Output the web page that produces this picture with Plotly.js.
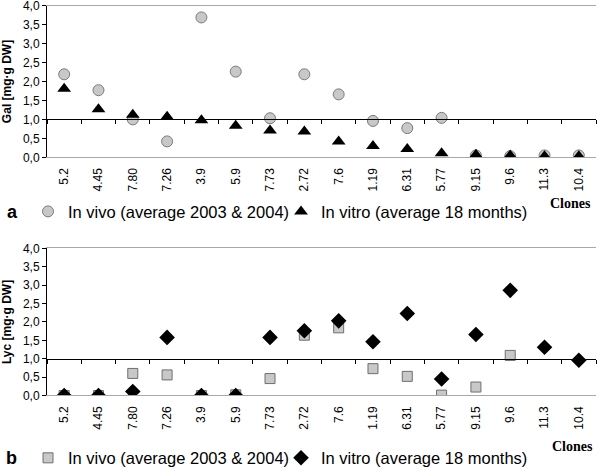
<!DOCTYPE html>
<html>
<head>
<meta charset="utf-8">
<script src="https://cdn.plot.ly/plotly-3.0.1.min.js"></script>
<style>
  html, body { margin: 0; padding: 0; background: #fff; }
  #chart { width: 609px; height: 476px; }
</style>
</head>
<body>
<div id="chart"></div>
<script>
// clones on the x axis (same order in both panels)
const clones = ['5.2', '4.45', '7.80', '7.26', '3.9', '5.9', '7.73', '2.72', '7.6', '1.19', '6.31', '5.77', '9.15', '9.6', '11.3', '10.4'];

// panel a: Gal [mg·g DW]
const galVivo = [2.19, 1.77, 1.00, 0.42, 3.69, 2.26, 1.03, 2.19, 1.66, 0.96, 0.77, 1.04, 0.05, 0.03, 0.05, 0.05];
const galVitro = [1.81, 1.27, 1.12, 1.07, 0.98, 0.83, 0.71, 0.68, 0.42, 0.30, 0.22, 0.11, 0.07, 0.05, 0.03, 0.03];

// panel b: Lyc [mg·g DW]
const lycVivo = [0, 0, 0.60, 0.56, 0, 0.02, 0.46, 1.64, 1.84, 0.73, 0.52, 0.01, 0.23, 1.09, null, null];
const lycVitro = [0, 0, 0.11, 1.58, 0, 0, 1.58, 1.76, 2.03, 1.46, 2.23, 0.45, 1.66, 2.86, 1.31, 0.96];

const seriesNames = ['In vivo (average 2003 & 2004)', 'In vitro (average 18 months)'];
const yTicks = [0, 0.5, 1, 1.5, 2, 2.5, 3, 3.5, 4];

const W = 609, H = 476;
const px = x => x / W;
const py = y => 1 - y / H;

const font = 'Arial, "Liberation Sans", sans-serif';
const serif = '"Times New Roman", "Liberation Serif", serif';
const xDom = [px(47), px(596)];
const topDom = [py(158.3), py(5.7)];
const botDom = [py(398), py(250)];
const crossAt = (dom) => dom[0] + (dom[1] - dom[0]) * 0.25; // y = 1.0 of a 0..4 axis

const traces = [
    { x: clones, y: galVivo, name: seriesNames[0], type: 'scatter', mode: 'markers',
      xaxis: 'x', yaxis: 'y', legend: 'legend',
      marker: { symbol: 'circle', size: 11, color: '#c8c8c8', line: { color: '#7a7a7a', width: 1 } } },
    { x: clones, y: galVitro, name: seriesNames[1], type: 'scatter', mode: 'markers',
      xaxis: 'x', yaxis: 'y', legend: 'legend',
      marker: { symbol: 'triangle-up', size: 12, color: '#000' } },
    { x: clones, y: lycVivo, name: seriesNames[0], type: 'scatter', mode: 'markers',
      xaxis: 'x2', yaxis: 'y2', legend: 'legend2',
      marker: { symbol: 'square', size: 10, color: '#c8c8c8', line: { color: '#6e6e6e', width: 1 } } },
    { x: clones, y: lycVitro, name: seriesNames[1], type: 'scatter', mode: 'markers',
      xaxis: 'x2', yaxis: 'y2', legend: 'legend2',
      marker: { symbol: 'diamond', size: 12, color: '#000' } },
    // empty traces so the y = 1.0 crossing axes get drawn
    { x: [], y: [], xaxis: 'x3', yaxis: 'y', type: 'scatter', mode: 'markers', showlegend: false, hoverinfo: 'skip' },
    { x: [], y: [], xaxis: 'x4', yaxis: 'y2', type: 'scatter', mode: 'markers', showlegend: false, hoverinfo: 'skip' }
];

function catAxis(anchor) {
    return {
        domain: xDom, anchor: anchor, type: 'category',
        categoryorder: 'array', categoryarray: clones,
        range: [-0.5, clones.length - 0.5],
        showline: true, linecolor: '#a8a8a8', linewidth: 1, mirror: true,
        showgrid: false, zeroline: false, ticks: '',
        tickangle: -90, ticklabelstandoff: 5,
        tickfont: { family: font, size: 12, color: '#000' }
    };
}

function valAxis(anchor, dom, title) {
    return {
        domain: dom, anchor: anchor, range: [0, 4], tickvals: yTicks,
        tickformat: '.1f', showgrid: false, zeroline: false,
        showline: true, linecolor: '#000', linewidth: 1,
        ticks: 'outside', ticklen: 4, tickcolor: '#000', ticklabeloverflow: 'allow',
        tickfont: { family: font, size: 12, color: '#000' },
        title: { text: title, font: { family: font, size: 12, color: '#000', weight: 'bold' }, standoff: 9 }
    };
}

// axis drawn at y = 1.0 with tick marks between clones
function crossAxis(dom, over) {
    return {
        domain: xDom, anchor: 'free', position: crossAt(dom), overlaying: over,
        range: [-0.5, clones.length - 0.5], tick0: 0.5, dtick: 1,
        showline: true, linecolor: '#000', linewidth: 1,
        ticks: 'outside', ticklen: 4, tickcolor: '#000',
        showticklabels: false, showgrid: false, zeroline: false
    };
}

const legendBase = {
    orientation: 'h', xanchor: 'left', yanchor: 'middle',
    font: { family: font, size: 16.5, color: '#000' },
    bgcolor: 'rgba(0,0,0,0)', itemclick: false, tracegroupgap: 0,
    entrywidth: 208, entrywidthmode: 'pixels'
};

function label(text, x, y, size, family) {
    return { text: text, x: px(x), y: py(y), xref: 'paper', yref: 'paper', showarrow: false,
             xanchor: 'center', yanchor: 'middle', font: { family: family, size: size, color: '#000' } };
}

const layout = {
    width: W, height: H,
    margin: { l: 0, r: 0, t: 0, b: 0 },
    paper_bgcolor: '#fff', plot_bgcolor: '#fff',
    separators: ',.',
    xaxis: catAxis('y'),
    yaxis: valAxis('x', topDom, 'Gal [mg·g DW]'),
    xaxis2: catAxis('y2'),
    yaxis2: valAxis('x2', botDom, 'Lyc [mg·g DW]'),
    xaxis3: crossAxis(topDom, 'x'),
    xaxis4: crossAxis(botDom, 'x2'),
    legend: Object.assign({ x: px(28), y: py(213) }, legendBase),
    legend2: Object.assign({ x: px(28), y: py(461) }, legendBase),
    annotations: [
        label('<b>Clones</b>', 570, 205, 14, serif),
        label('<b>Clones</b>', 572, 449, 14, serif),
        label('<b>a</b>', 12, 213, 18, font),
        label('<b>b</b>', 11, 461, 18, font)
    ],
    showlegend: true
};

Plotly.newPlot('chart', traces, layout, { displayModeBar: false, staticPlot: true });
</script>
</body>
</html>
